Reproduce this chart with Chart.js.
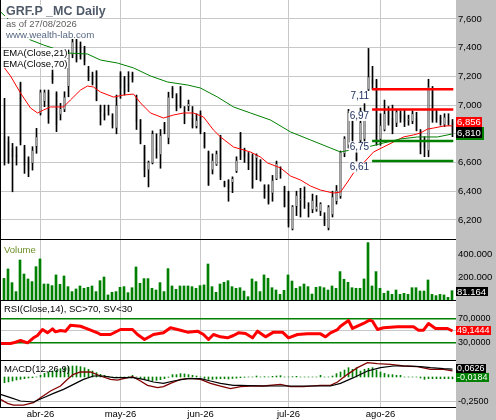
<!DOCTYPE html>
<html><head><meta charset="utf-8">
<script src="https://cdn.jsdelivr.net/npm/chart.js@4.4.1/dist/chart.umd.min.js"></script>
<style>
html,body{margin:0;padding:0;background:#fff;}
#wrap{position:relative;width:496px;height:420px;overflow:hidden;background:#fff;font-family:"Liberation Sans",Arial,sans-serif;}
#axisbg{position:absolute;left:456px;top:0;width:40px;height:420px;background:#c0c0c0;}
canvas{position:absolute;left:0;}
.ln{position:absolute;background:#000;z-index:5;}
.lbl{position:absolute;white-space:nowrap;line-height:1;background:#fff;z-index:6;font-size:9.5px;color:#000;padding:0 1px;}
.nobg{background:transparent;}
#title{z-index:8;}
</style></head>
<body>
<div id="wrap">
<div id="axisbg"></div>
<canvas id="cPrice" width="496" height="239" style="top:0px;width:496px;height:239px"></canvas>
<canvas id="cVol" width="496" height="60" style="top:240px;width:496px;height:60px"></canvas>
<canvas id="cRsi" width="496" height="60" style="top:300px;width:496px;height:60px"></canvas>
<canvas id="cMacd" width="496" height="59" style="top:361px;width:496px;height:59px"></canvas>
<div class="ln" style="left:0;top:239px;width:456px;height:1px"></div>
<div class="ln" style="left:0;top:300px;width:456px;height:1px"></div>
<div class="ln" style="left:0;top:360px;width:456px;height:1px"></div>
<div class="ln" style="left:0;top:407px;width:456px;height:1px"></div>
<div class="ln" style="left:0;top:0;width:1px;height:408px"></div>
<div class="lbl" style="left:5px;top:19.3px;color:#5e5e5e;">as of 27/08/2026</div>
<div class="lbl" style="left:5px;top:29.5px;font-size:9.7px;color:#566882;">www.wealth-lab.com</div>
<div class="lbl" id="title" style="left:5px;top:5px;font-weight:bold;font-size:12.5px;color:#505a69;">GRF.P _MC Daily</div>
<div class="lbl" style="left:2px;top:48px;">EMA(Close,21)</div>
<div class="lbl" style="left:2px;top:58.7px;">EMA(Close,70)</div>
<div class="lbl nobg" style="left:3px;top:245.3px;color:#6b8e23;">Volume</div>
<div class="lbl nobg" style="left:3px;top:304px;">RSI(Close,14), SC&gt;70, SV&lt;30</div>
<div class="lbl nobg" style="left:3px;top:364px;">MACD(12,26,9)</div>
</div>
<script>
// ---------- DATA ----------
const monthIdx = [9, 29, 49, 71, 94];
const monthLabels = ['abr-26', 'may-26', 'jun-26', 'jul-26', 'ago-26'];

const opens = [6.780,6.745,6.698,6.652,7.151,6.710,6.629,6.594,6.710,6.942,
7.024,7.093,7.221,7.082,6.931,6.966,7.128,7.349,7.453,7.419,
7.395,7.244,7.209,7.233,6.989,6.942,6.966,6.931,6.838,7.221,
7.186,7.140,7.221,7.058,6.896,6.710,6.547,6.594,6.695,6.652,
6.873,6.768,7.117,7.070,7.128,6.933,6.989,6.907,6.849,6.942,
6.803,6.675,6.547,6.582,6.780,6.466,6.478,6.459,6.536,6.803,
6.691,6.663,6.652,6.629,6.617,6.443,6.443,6.385,6.482,6.526,
6.431,6.396,6.134,6.292,6.335,6.359,6.301,6.269,6.269,6.257,
6.229,6.141,6.234,6.327,6.362,6.660,6.720,6.890,6.670,6.750,
6.760,7.105,7.175,7.175,6.760,6.826,6.954,6.907,6.872,6.942,
6.931,6.893,6.884,6.907,6.820,6.760,6.680,7.117,6.954,6.919,
6.861,6.896,6.880];
const highs = [7.047,6.780,6.733,6.710,7.160,6.720,6.640,6.710,6.838,7.105,
7.105,7.105,7.244,7.093,7.012,7.093,7.384,7.465,7.470,7.440,
7.410,7.270,7.230,7.240,7.000,7.000,7.000,6.940,7.070,7.233,
7.200,7.233,7.230,7.070,6.900,6.720,6.610,6.820,6.800,6.830,
6.880,7.090,7.130,7.080,7.130,6.990,7.035,6.990,6.940,6.960,
6.810,6.680,6.660,6.680,6.790,6.470,6.480,6.500,6.640,6.810,
6.700,6.670,6.660,6.660,6.620,6.445,6.445,6.510,6.610,6.570,
6.435,6.400,6.300,6.400,6.420,6.430,6.320,6.380,6.370,6.320,
6.250,6.300,6.400,6.440,6.680,6.780,6.970,6.900,6.720,6.980,
7.010,7.395,7.270,7.180,6.940,7.035,6.990,7.000,6.970,6.960,
6.970,6.930,6.960,6.950,6.830,6.780,7.180,7.130,6.970,6.930,
6.940,6.940,6.900];
const lows = [6.582,6.594,6.396,6.582,6.722,6.524,6.501,6.547,6.664,6.931,
6.989,6.873,7.151,6.815,6.896,6.954,7.058,7.330,7.300,7.320,
7.280,7.170,7.140,7.030,6.861,6.896,6.930,6.840,6.800,7.047,
7.070,7.093,7.160,6.830,6.730,6.500,6.430,6.590,6.630,6.560,
6.800,6.730,7.050,6.960,6.980,6.870,6.960,6.840,6.840,6.800,
6.700,6.440,6.520,6.580,6.480,6.430,6.330,6.390,6.530,6.620,
6.600,6.550,6.420,6.480,6.470,6.350,6.310,6.330,6.480,6.490,
6.290,6.150,6.130,6.230,6.220,6.280,6.220,6.250,6.260,6.230,
6.160,6.130,6.220,6.310,6.350,6.640,6.700,6.750,6.610,6.740,
6.750,7.100,7.110,6.720,6.720,6.820,6.860,6.800,6.850,6.880,
6.850,6.860,6.870,6.820,6.660,6.640,6.640,6.880,6.880,6.860,
6.850,6.860,6.780];
const closes = [6.605,6.605,6.640,6.640,6.745,6.582,6.547,6.687,6.780,7.093,
7.093,6.907,7.175,6.861,6.977,7.058,7.360,7.442,7.314,7.337,
7.302,7.186,7.151,7.035,6.954,6.919,6.959,6.861,7.000,7.117,
7.093,7.135,7.175,6.884,6.756,6.547,6.605,6.803,6.688,6.791,
6.826,7.058,7.070,6.977,6.989,6.929,7.012,6.849,6.896,6.815,
6.710,6.443,6.617,6.663,6.501,6.436,6.420,6.489,6.617,6.640,
6.640,6.590,6.424,6.652,6.478,6.357,6.320,6.478,6.594,6.522,
6.292,6.176,6.297,6.373,6.345,6.355,6.297,6.338,6.297,6.315,
6.176,6.292,6.362,6.408,6.675,6.770,6.950,6.760,6.620,6.880,
6.950,7.198,7.150,6.733,6.860,6.942,6.872,6.826,6.954,6.907,
6.884,6.898,6.942,6.826,6.710,6.700,7.128,6.896,6.896,6.872,
6.919,6.872,6.810];

const volumes = [188000,270000,151000,73000,348000,226000,183000,160000,290000,357000,
139000,139000,125000,218000,136000,209000,116000,73000,96000,122000,
102000,110000,122000,73000,168000,200000,44000,67000,73000,110000,
116000,64000,107000,287000,145000,186000,186000,102000,87000,151000,
73000,273000,122000,93000,122000,122000,122000,116000,102000,125000,
131000,313000,116000,67000,139000,154000,168000,116000,102000,107000,
78000,29000,183000,160000,73000,218000,189000,107000,87000,49000,
84000,218000,165000,102000,116000,139000,116000,52000,110000,116000,
107000,87000,122000,102000,247000,180000,154000,107000,102000,102000,
183000,499000,122000,247000,102000,58000,78000,49000,87000,49000,
58000,49000,107000,107000,78000,78000,174000,49000,38000,49000,
44000,23000,81164];

const ema21Idx = [0,1.5,4,6.5,8.25,9.75,11.5,14.75,16.5,19,20.75,22.25,24,27.25,29.75,32.25,34,36.5,39.75,42.25,
44.75,47.25,49.75,52.25,54,57.25,61.5,64,65.75,69,71.5,74,76.5,79,82.25,84,85.75,87.25,89.75,92.25,
94.75,97.25,99.75,102.25,104,105.75,107.25,109.75,112];
const ema21Vals = [7.259,7.203,7.084,6.980,6.945,6.966,6.987,6.987,7.036,7.105,7.133,7.126,7.091,7.056,7.070,7.077,7.015,6.945,6.910,6.931,
6.945,6.945,6.917,6.826,6.778,6.708,6.673,6.638,6.597,6.562,6.506,6.478,6.436,6.408,6.387,6.394,6.464,6.527,6.597,6.673,
6.708,6.743,6.778,6.792,6.806,6.833,6.840,6.854,6.856];

const ema70Idx = [-1,6.5,9.75,15.75,20.75,24,28.25,32.25,36.5,40.75,45.75,49,53.25,57.25,61.5,66.5,71.5,76.5,81.5,84,86.5,90.75,94.75,99,103.25,108.25,112];
const ema70Vals = [7.650,7.454,7.419,7.363,7.356,7.314,7.293,7.259,7.203,7.161,7.140,7.119,7.056,6.987,6.945,6.896,6.813,6.757,6.701,6.673,6.687,6.708,6.736,6.764,6.778,6.778,6.799];

const levelVals = [7.11, 6.97, 6.75, 6.61];
const levelText = ['7,11', '6,97', '6,75', '6,61'];
const levelColor = ['#ff0000', '#ff0000', '#008000', '#008000'];
const levelFrom = 91.9, levelTo = 112.2;

const rsiIdx = [-1,1.5,2.25,4,5.75,7.25,8.25,9.5,10.75,12,12.75,14,15.25,16.5,19,20.75,23.25,24,26.5,29,
32,33.25,35,37.25,39.75,41.5,44,45.75,48.25,49.75,51,52.25,54,55.75,57.25,58.5,
60.25,62,63.25,65.25,67.25,69.5,71,73.25,75.75,79,80.25,81.5,83.25,84,86,87,89.75,91.25,92,93.25,
94.75,98.25,102.25,103.5,104.75,106,107.75,110.75,112];
const rsiVals = [28.7,28.7,29.8,33.6,29.8,38,41.8,51.6,46.2,52.7,47.8,50,48.9,58.7,57,52.7,46.2,43.4,43.4,51.6,
51.6,43.4,35.3,43.4,46.2,54.4,50.5,47.3,48.9,43.4,35.3,43.4,39.6,38,41.8,46.2,
45,38,48.9,39.6,47.3,47.3,38,43.4,44.5,44.5,39.6,46.2,51.6,57,66.4,53.3,61.5,67,65.3,51.6,
54.4,56,56,50.5,50.5,61.5,53.3,53.3,49.1444];

const macdIdx = [-1,0.75,2.25,4.75,7.25,9,11.5,14,15.75,17.25,19,21.5,24,26.5,28.25,29.75,32,34,35.75,38.25,
39.75,41.5,44,46.5,49,51.5,54,56.5,59,61.5,64.75,69,71.5,74.75,79,81.5,83.25,85.75,88.25,90.75,
93.25,96.5,99.75,103.25,106.5,109.75,112];
const macdVals = [-0.228,-0.269,-0.286,-0.286,-0.262,-0.211,-0.143,-0.092,-0.024,0.027,0.051,0.051,0.010,-0.024,-0.031,-0.017,0.003,-0.041,-0.085,-0.109,
-0.099,-0.065,-0.024,-0.014,-0.024,-0.065,-0.092,-0.119,-0.099,-0.092,-0.092,-0.075,-0.099,-0.099,-0.085,-0.085,-0.051,0.027,0.095,0.146,
0.136,0.129,0.112,0.105,0.078,0.078,0.0626];
const sigIdx = [-1,1.5,4,7.25,9.75,12.25,14.75,17.25,19.75,22.25,24.75,27.25,29.75,32.25,34.75,37.25,39.75,42.25,45.75,49,
51.5,54,57.25,59,64.75,73.25,81.5,84,87.25,90.75,94,97.25,100.75,104,106.5,109.75,112];
const sigVals = [-0.177,-0.211,-0.245,-0.255,-0.211,-0.167,-0.126,-0.075,-0.024,0.010,0.010,-0.007,-0.007,-0.007,-0.024,-0.051,-0.065,-0.041,-0.017,-0.017,
-0.041,-0.065,-0.085,-0.085,-0.092,-0.092,-0.092,-0.065,-0.007,0.061,0.095,0.112,0.112,0.105,0.095,0.085,0.081];
const histVals = [-0.058,-0.051,-0.041,-0.031,-0.024,-0.017,-0.010,-0.007,0.000,0.017,
0.037,0.051,0.061,0.071,0.085,0.095,0.105,0.112,0.112,0.105,
0.095,0.078,0.061,0.044,0.027,0.017,0.007,-0.003,-0.010,-0.007,
0.000,0.003,0.017,0.000,-0.014,-0.020,-0.031,-0.037,-0.034,-0.027,
-0.017,-0.003,0.024,0.024,0.034,0.031,0.024,0.017,0.010,0.000,
-0.014,-0.024,-0.024,-0.020,-0.017,-0.017,-0.020,-0.015,-0.012,-0.007,
-0.003,0.000,0.000,0.010,0.000,0.003,0.000,0.007,0.010,0.014,
0.000,0.000,0.003,0.007,0.000,0.000,0.000,0.000,0.000,0.017,
0.000,0.000,0.010,0.034,0.051,0.071,0.095,0.078,0.095,0.061,
0.078,0.088,0.095,0.071,0.051,0.037,0.024,0.024,0.017,0.017,
0.000,0.000,0.000,0.000,-0.010,-0.024,-0.017,-0.017,-0.017,-0.017,
-0.017,-0.017,-0.0184];

const priceTicks = [6.2, 6.4, 6.6, 6.8, 7.0, 7.2, 7.4, 7.6];
const volTicks = [200000, 400000];
const rsiTicks = [30, 50, 70];
const macdTicks = [-0.25];

// ---------- HELPERS ----------
const FONT = '"Liberation Sans", Arial, sans-serif';
const X_MIN = -1.125, X_MAX = 112.875;
const comma = (v, d) => v.toFixed(d).replace('.', ',');
const thousands = v => Math.round(v).toString().replace(/\B(?=(\d{3})+(?!\d))/g, '.');
const pts = (xs, ys) => xs.map((x, k) => ({x, y: ys[k]}));

function xAxis(shift, showLabels) {
  return {
    type: 'linear', min: X_MIN + shift, max: X_MAX + shift, offset: false,
    afterBuildTicks: s => { s.ticks = monthIdx.map(v => ({value: v})); },
    afterFit: s => { s.height = showLabels ? 13 : 0; s.paddingLeft = 0; s.paddingRight = 0; },
    grid: {color: '#c8c8c8', lineWidth: 1, drawTicks: false, offset: false},
    border: {display: false},
    ticks: {display: showLabels, padding: 2, maxRotation: 0, minRotation: 0, autoSkip: false, color: '#000',
      font: {family: FONT, size: 9.5},
      callback: v => { const k = monthIdx.indexOf(v); return k >= 0 ? monthLabels[k] : ''; }}
  };
}
function yAxis(min, max, ticks, fmt, grid, size) {
  return {
    type: 'linear', position: 'right', min, max,
    afterBuildTicks: s => { s.ticks = ticks.map(v => ({value: v})); },
    afterFit: s => { s.width = 40; s.paddingTop = 0; s.paddingBottom = 0; },
    grid: Object.assign({color: '#c8c8c8', lineWidth: 1, drawTicks: false}, grid || {}),
    border: {display: false},
    ticks: {padding: 2, autoSkip: false, color: '#000', font: {family: FONT, size: size || 9.5}, callback: fmt}
  };
}
function boxPlugin(items) {
  return {
    id: 'vbox',
    afterDraw(chart) {
      const ctx = chart.ctx, ys = chart.scales.y, x0 = chart.chartArea.right;
      ctx.save();
      items.forEach(it => {
        ctx.font = (it.size || 9.5) + 'px ' + FONT;
        const w = Math.ceil(ctx.measureText(it.text).width) + 2;
        const yc = ys.getPixelForValue(it.value) + it.dy;
        const top = Math.round(yc - it.h / 2);
        if (it.rim) { ctx.fillStyle = it.rim; ctx.fillRect(x0, top, w + 2, it.h + 2); }
        ctx.fillStyle = it.bg; ctx.fillRect(x0, top, w, it.h);
        ctx.fillStyle = '#fff'; ctx.textBaseline = 'middle'; ctx.textAlign = 'left';
        ctx.fillText(it.text, x0 + 1, top + it.h / 2 + 0.5);
      });
      ctx.restore();
    }
  };
}
const levelLabelPlugin = {
  id: 'lvl',
  afterDatasetsDraw(chart) {
    const ctx = chart.ctx, xs = chart.scales.x, ys = chart.scales.y;
    ctx.save();
    ctx.font = '10px ' + FONT; ctx.textAlign = 'right'; ctx.textBaseline = 'middle';
    levelVals.forEach((v, k) => {
      const x = xs.getPixelForValue(levelFrom) - 3;
      const y = ys.getPixelForValue(v) + 6.5;
      const w = ctx.measureText(levelText[k]).width;
      ctx.fillStyle = '#fff'; ctx.fillRect(x - w - 1, y - 5, w + 2, 10);
      ctx.fillStyle = '#1a2b5c'; ctx.fillText(levelText[k], x, y);
    });
    ctx.restore();
  }
};
const common = {
  responsive: false, animation: false, devicePixelRatio: 1, events: [],
  layout: {padding: 0},
  plugins: {legend: {display: false}, tooltip: {enabled: false}}
};

// ---------- PRICE ----------
const last = closes.length - 1;
const priceDatasets = [
  {type: 'bar', order: 3, grouped: false, barThickness: 1, maxBarThickness: 1,
   data: lows.map((l, i) => ({x: i, y: [l, highs[i]]})), backgroundColor: '#000', borderWidth: 0},
  {type: 'bar', order: 2, grouped: false, barThickness: 1, maxBarThickness: 3, minBarLength: 1,
   data: opens.map((o, i) => ({x: i, y: [Math.min(o, closes[i]), Math.max(o, closes[i])]})),
   backgroundColor: opens.map((o, i) => closes[i] >= o ? '#fff' : '#000'),
   borderColor: '#000', borderWidth: 1, borderSkipped: false},
  {type: 'line', order: 1, data: pts(ema70Idx, ema70Vals), borderColor: '#008000', borderWidth: 1, pointRadius: 0, tension: 0},
  {type: 'line', order: 1, data: pts(ema21Idx, ema21Vals), borderColor: '#ff0000', borderWidth: 1, pointRadius: 0, tension: 0}
];
levelVals.forEach((v, k) => priceDatasets.push({
  type: 'line', order: 0, data: [{x: levelFrom, y: v}, {x: levelTo, y: v}],
  borderColor: levelColor[k], borderWidth: 2.5, pointRadius: 0
}));
new Chart(document.getElementById('cPrice'), {
  type: 'bar',
  data: {datasets: priceDatasets},
  options: Object.assign({}, common, {
    scales: {
      x: xAxis(0, false),
      y: yAxis(6.0669, 7.7324, priceTicks, v => comma(v, 3))
    }
  }),
  plugins: [levelLabelPlugin, boxPlugin([
    {value: ema21Vals[ema21Vals.length - 1], text: comma(ema21Vals[ema21Vals.length - 1], 3), bg: '#ff0000', dy: -4, h: 10},
    {value: closes[last], text: comma(closes[last], 3), bg: '#000', rim: '#008000', dy: 0, h: 11}
  ])]
});

// ---------- VOLUME ----------
new Chart(document.getElementById('cVol'), {
  type: 'bar',
  data: {datasets: [{data: volumes.map((v, i) => ({x: i, y: v})), backgroundColor: '#008000',
    barThickness: 2, maxBarThickness: 2, borderWidth: 0}]},
  options: Object.assign({}, common, {
    scales: {
      x: xAxis(0.125, false),
      y: yAxis(0, 521700, volTicks, v => thousands(v), {display: false})
    }
  }),
  plugins: [boxPlugin([{value: volumes[last], text: thousands(volumes[last]), bg: '#000', dy: 1, h: 9}])]
});

// ---------- RSI ----------
new Chart(document.getElementById('cRsi'), {
  type: 'line',
  data: {datasets: [{data: pts(rsiIdx, rsiVals), borderColor: '#ff0000', borderWidth: 3, pointRadius: 0,
    tension: 0, borderJoinStyle: 'round'}]},
  options: Object.assign({}, common, {
    scales: {
      x: xAxis(0, false),
      y: yAxis(1.64, 100, rsiTicks, v => v === 50 ? '' : comma(v, 4), {
        color: c => c.tick && c.tick.value === 50 ? '#c8c8c8' : '#008000',
        lineWidth: c => c.tick && c.tick.value === 50 ? 1 : 1.5
      }, 9)
    }
  }),
  plugins: [boxPlugin([{value: rsiVals[rsiVals.length - 1], text: comma(rsiVals[rsiVals.length - 1], 4), bg: '#ff0000', dy: -0.5, h: 9, size: 9}])]
});

// ---------- MACD ----------
new Chart(document.getElementById('cMacd'), {
  type: 'bar',
  data: {datasets: [
    {type: 'line', order: 0, data: pts(sigIdx, sigVals), borderColor: '#000', borderWidth: 1.2, pointRadius: 0, tension: 0},
    {type: 'line', order: 0, data: pts(macdIdx, macdVals), borderColor: '#800000', borderWidth: 1.3, pointRadius: 0, tension: 0},
    {type: 'bar', order: 1, data: histVals.map((v, i) => ({x: i, y: v})), backgroundColor: '#008000',
     barThickness: 1, maxBarThickness: 1, borderWidth: 0}
  ]},
  options: Object.assign({}, common, {
    scales: {
      x: xAxis(0, true),
      y: yAxis(-0.306, 0.163, macdTicks, v => comma(v, 4), null, 9)
    }
  }),
  plugins: [boxPlugin([
    {value: macdVals[macdVals.length - 1], text: comma(macdVals[macdVals.length - 1], 4), bg: '#000', dy: -2.5, h: 9, size: 9},
    {value: histVals[histVals.length - 1], text: comma(histVals[histVals.length - 1], 4), bg: '#008000', dy: -1.3, h: 9, size: 9}
  ])]
});
</script>
</body></html>
